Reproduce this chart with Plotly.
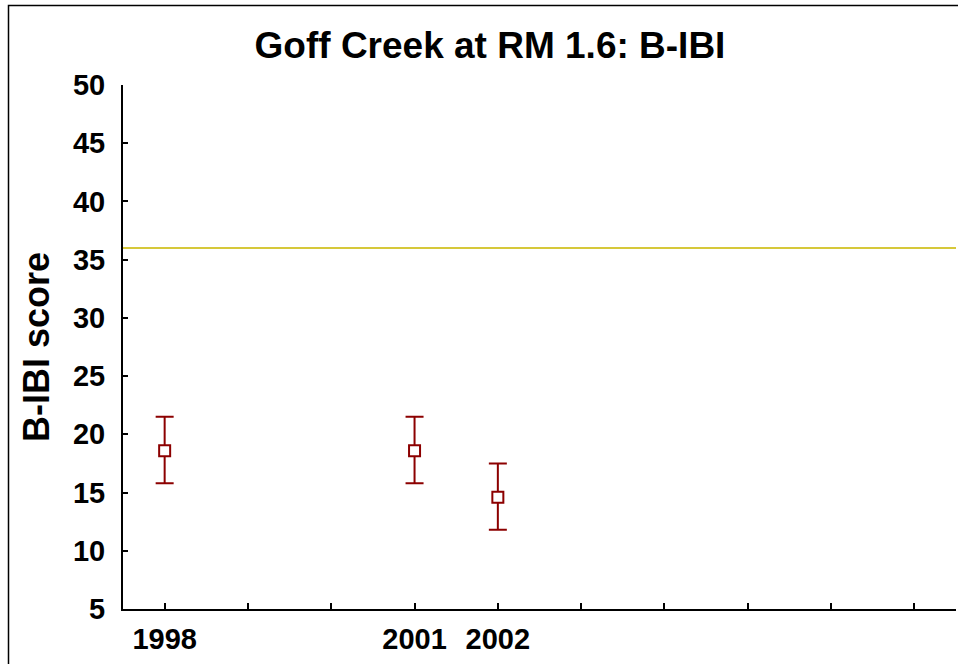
import plotly.graph_objects as go

# B-IBI scores by sampling year, with their error ranges
years = [1998, 2001, 2002]
scores = [18.6, 18.6, 14.6]
err_upper = [2.9, 2.9, 2.9]
err_lower = [2.8, 2.8, 2.8]

# Reference score shown as a horizontal line
threshold = 36

# X axis ticks: one per year, only the sampled years labelled
tick_years = list(range(1998, 2008))
tick_text = [str(y) if y in years else "" for y in tick_years]
y_ticks = list(range(5, 51, 5))

RED = "#8c0000"
FONT = "Liberation Sans, Arial, sans-serif"

fig = go.Figure()

fig.add_hline(y=threshold, line=dict(color="#d6c83a", width=2), layer="below")

fig.add_trace(go.Scatter(
    x=years,
    y=scores,
    mode="markers",
    marker=dict(symbol="square", size=11, color="white",
                line=dict(color=RED, width=2)),
    error_y=dict(type="data", symmetric=False, array=err_upper,
                 arrayminus=err_lower, color=RED, thickness=2, width=9),
    showlegend=False,
))

W, H = 958, 664
L, R, T, B = 123, 2, 85, 55
pw, ph = W - L - R, H - T - B

def px_x(p):
    return (p - L) / pw

def px_y(p):
    return (H - B - p) / ph

fig.add_shape(type="rect", xref="paper", yref="paper",
              x0=px_x(8.5), x1=px_x(970), y0=px_y(5.5), y1=px_y(680),
              line=dict(color="black", width=1.5), fillcolor="rgba(0,0,0,0)")

fig.update_layout(
    width=W, height=H,
    margin=dict(l=L, r=R, t=T, b=B),
    paper_bgcolor="white",
    plot_bgcolor="white",
    font=dict(family=FONT, color="black"),
    title=dict(text="<b>Goff Creek at RM 1.6: B-IBI</b>",
               font=dict(size=37, family=FONT, color="black"),
               x=490 / W, xref="container", xanchor="center",
               y=1 - 45 / H, yref="container", yanchor="middle"),
    xaxis=dict(range=[1997.5, 2007.5], tickvals=tick_years, ticktext=tick_text,
               ticks="inside", ticklen=6, tickwidth=2, tickcolor="black",
               showline=True, linecolor="black", linewidth=2,
               showgrid=False, zeroline=False,
               tickfont=dict(size=29, family=FONT, color="black", weight="bold"),
               ticklabelstandoff=3),
    yaxis=dict(range=[5, 50], tickvals=y_ticks,
               ticks="inside", ticklen=5, tickwidth=2, tickcolor="black",
               showline=True, linecolor="black", linewidth=2,
               showgrid=False, zeroline=False,
               tickfont=dict(size=29, family=FONT, color="black", weight="bold"),
               ticklabelstandoff=10,
               title=dict(text="<b>B-IBI score</b>",
                          font=dict(size=36, family=FONT, color="black"),
                          standoff=12)),
)

fig.write_html("out.html")
